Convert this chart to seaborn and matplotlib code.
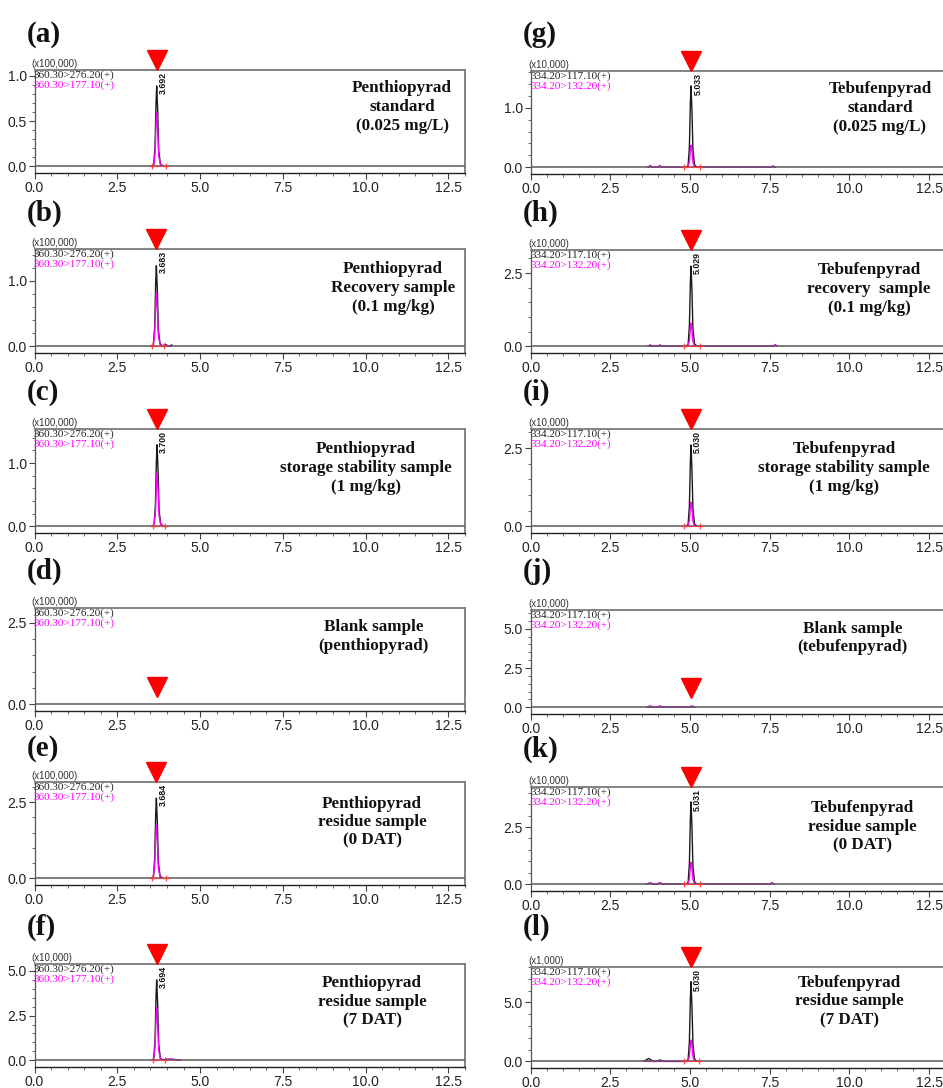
import matplotlib
matplotlib.use("Agg")
import matplotlib.pyplot as plt
import matplotlib.transforms as mtrans
from matplotlib.ticker import AutoMinorLocator, FixedLocator
import seaborn as sns
import pandas as pd

# ---------------- data ----------------
PANEL_LABELS = ["(a)", "(b)", "(c)", "(d)", "(e)", "(f)",
                "(g)", "(h)", "(i)", "(j)", "(k)", "(l)"]

TITLES = [
    "Penthiopyrad\nstandard\n(0.025 mg/L)",
    "Penthiopyrad\nRecovery sample\n(0.1 mg/kg)",
    "Penthiopyrad\nstorage stability sample\n(1 mg/kg)",
    "Blank sample\n(penthiopyrad)",
    "Penthiopyrad\nresidue sample\n(0 DAT)",
    "Penthiopyrad\nresidue sample\n(7 DAT)",
    "Tebufenpyrad\nstandard\n(0.025 mg/L)",
    "Tebufenpyrad\nrecovery  sample\n(0.1 mg/kg)",
    "Tebufenpyrad\nstorage stability sample\n(1 mg/kg)",
    "Blank sample\n(tebufenpyrad)",
    "Tebufenpyrad\nresidue sample\n(0 DAT)",
    "Tebufenpyrad\nresidue sample\n(7 DAT)",
]

SCALES = ["(x100,000)"] * 5 + ["(x10,000)"] + ["(x10,000)"] * 5 + ["(x1,000)"]
PEN_MRM = ["360.30>276.20(+)", "360.30>177.10(+)"]
TEB_MRM = ["334.20>117.10(+)", "334.20>132.20(+)"]

RET_TIMES = [3.692, 3.683, 3.700, 3.692, 3.684, 3.694,
             5.033, 5.029, 5.030, 5.030, 5.031, 5.030]
RT_LABELS = ["3.692", "3.683", "3.700", "", "3.684", "3.694",
             "5.033", "5.029", "5.030", "", "5.031", "5.030"]

Y_MAX = [1.066, 1.485, 1.54, 2.96, 3.16, 5.39,
         1.62, 3.29, 3.11, 6.2, 4.25, 8.0]
Y_TICKS = [[0.0, 0.5, 1.0], [0.0, 1.0], [0.0, 1.0], [0.0, 2.5], [0.0, 2.5], [0.0, 2.5, 5.0],
           [0.0, 1.0], [0.0, 2.5], [0.0, 2.5], [0.0, 2.5, 5.0], [0.0, 2.5], [0.0, 5.0]]
X_TICKS = [0.0, 2.5, 5.0, 7.5, 10.0, 12.5]

# integration limits (red baseline marks)
INT_START = [3.56, 3.55, 3.57, None, 3.56, 3.58, 4.81, 4.80, 4.82, None, 4.80, 4.81]
INT_END = [3.97, 3.92, 3.93, None, 3.97, 3.93, 5.31, 5.30, 5.32, None, 5.30, 5.29]

# chromatogram traces (time in min, intensity in panel units)
T_A = [3.55, 3.60, 3.64, 3.67, 3.69, 3.72, 3.75, 3.80, 3.88]
K_A = [0.00, 0.02, 0.22, 0.70, 0.89, 0.62, 0.18, 0.03, 0.00]
M_A = [0.00, 0.01, 0.14, 0.46, 0.59, 0.40, 0.12, 0.02, 0.00]

T_B = [3.54, 3.59, 3.63, 3.66, 3.68, 3.71, 3.74, 3.79, 3.87, 3.95, 4.05, 4.15]
K_B = [0.00, 0.03, 0.30, 0.98, 1.23, 0.85, 0.25, 0.04, 0.00, 0.03, 0.00, 0.02]
M_B = [0.00, 0.02, 0.20, 0.64, 0.82, 0.56, 0.16, 0.03, 0.00, 0.02, 0.00, 0.00]

T_C = [3.56, 3.61, 3.65, 3.68, 3.70, 3.73, 3.76, 3.81, 3.89]
K_C = [0.00, 0.03, 0.32, 1.02, 1.29, 0.90, 0.26, 0.04, 0.00]
M_C = [0.00, 0.02, 0.21, 0.66, 0.84, 0.58, 0.17, 0.03, 0.00]

T_D = []
K_D = []
M_D = []

T_E = [3.54, 3.59, 3.63, 3.66, 3.68, 3.71, 3.74, 3.79, 3.87]
K_E = [0.00, 0.06, 0.65, 2.10, 2.63, 1.82, 0.52, 0.08, 0.00]
M_E = [0.00, 0.04, 0.43, 1.38, 1.74, 1.20, 0.34, 0.05, 0.00]

T_F = [3.55, 3.60, 3.64, 3.67, 3.69, 3.72, 3.75, 3.80, 3.88, 4.00, 4.20, 4.40]
K_F = [0.00, 0.10, 1.10, 3.60, 4.50, 3.10, 0.90, 0.12, 0.00, 0.06, 0.05, 0.00]
M_F = [0.00, 0.07, 0.72, 2.35, 2.94, 2.03, 0.58, 0.08, 0.00, 0.06, 0.05, 0.00]

T_G = [3.68, 3.75, 3.82, 3.98, 4.05, 4.12, 4.88, 4.94, 4.98, 5.01, 5.03, 5.06, 5.09, 5.14, 5.22, 7.53, 7.60, 7.67]
K_G = [0.00, 0.02, 0.00, 0.00, 0.02, 0.00, 0.00, 0.03, 0.35, 1.08, 1.37, 0.95, 0.30, 0.04, 0.00, 0.00, 0.02, 0.00]
M_G = [0.00, 0.03, 0.00, 0.00, 0.03, 0.00, 0.00, 0.01, 0.10, 0.29, 0.37, 0.26, 0.08, 0.01, 0.00, 0.00, 0.02, 0.00]

T_H = [3.68, 3.75, 3.82, 3.98, 4.05, 4.12, 4.88, 4.94, 4.98, 5.01, 5.03, 5.06, 5.09, 5.14, 5.22, 7.60, 7.67, 7.74]
K_H = [0.00, 0.03, 0.00, 0.00, 0.03, 0.00, 0.00, 0.06, 0.70, 2.16, 2.74, 1.90, 0.60, 0.08, 0.00, 0.00, 0.04, 0.00]
M_H = [0.00, 0.05, 0.00, 0.00, 0.05, 0.00, 0.00, 0.02, 0.20, 0.62, 0.79, 0.55, 0.17, 0.02, 0.00, 0.00, 0.06, 0.00]

T_I = [4.88, 4.94, 4.98, 5.01, 5.03, 5.06, 5.09, 5.14, 5.22]
K_I = [0.00, 0.06, 0.66, 2.05, 2.60, 1.80, 0.57, 0.07, 0.00]
M_I = [0.00, 0.02, 0.19, 0.60, 0.77, 0.53, 0.16, 0.02, 0.00]

T_J = [3.65, 3.75, 3.85, 3.95, 4.05, 4.15, 4.95, 5.05, 5.15]
K_J = [0.00, 0.03, 0.00, 0.00, 0.03, 0.00, 0.00, 0.03, 0.00]
M_J = [0.00, 0.09, 0.00, 0.00, 0.09, 0.00, 0.00, 0.09, 0.00]

T_K = [3.65, 3.75, 3.85, 3.95, 4.05, 4.15, 4.88, 4.94, 4.98, 5.01, 5.03, 5.06, 5.09, 5.14, 5.22, 7.50, 7.57, 7.64]
K_K = [0.00, 0.05, 0.00, 0.00, 0.05, 0.00, 0.00, 0.08, 0.92, 2.84, 3.60, 2.50, 0.79, 0.10, 0.00, 0.00, 0.05, 0.00]
M_K = [0.00, 0.07, 0.00, 0.00, 0.07, 0.00, 0.00, 0.02, 0.24, 0.76, 0.96, 0.66, 0.21, 0.03, 0.00, 0.00, 0.07, 0.00]

T_L = [3.55, 3.70, 3.85, 3.95, 4.05, 4.20, 4.88, 4.94, 4.98, 5.01, 5.03, 5.06, 5.09, 5.14, 5.22]
K_L = [0.00, 0.25, 0.00, 0.00, 0.12, 0.00, 0.00, 0.15, 1.70, 5.30, 6.75, 4.70, 1.50, 0.20, 0.00]
M_L = [0.00, 0.00, 0.00, 0.00, 0.00, 0.00, 0.00, 0.04, 0.46, 1.42, 1.80, 1.25, 0.40, 0.05, 0.00]

TIMES = [T_A, T_B, T_C, T_D, T_E, T_F, T_G, T_H, T_I, T_J, T_K, T_L]
BLACK = [K_A, K_B, K_C, K_D, K_E, K_F, K_G, K_H, K_I, K_J, K_K, K_L]
MAGENTA = [M_A, M_B, M_C, M_D, M_E, M_F, M_G, M_H, M_I, M_J, M_K, M_L]

# ---------------- layout (pixels of a 943 x 1088 figure) ----------------
W, H = 943, 1088
COL_LEFT = [34.5, 530.7]
COL_WIDTH = [430.5, 414.3]
AX_TOP = [70, 249, 429, 608, 782, 964, 71, 250, 429, 610, 787, 967]
AX_BOTTOM = [173, 353, 533, 711, 885, 1067, 174, 353, 533, 714, 891, 1068]
LABEL_Y = [35, 213, 392, 571, 749, 927]
LABEL_X = [27, 523]
TITLE_X = [0.854, 0.833, 0.77, 0.788, 0.784, 0.784, 0.843, 0.817, 0.757, 0.777, 0.80, 0.769]
TITLE_Y = [0.64, 0.625, 0.625, 0.725, 0.61, 0.635, 0.64, 0.62, 0.625, 0.73, 0.615, 0.66]
TRI_Y = [None, None, None, 0.233, None, None, None, None, None, 0.25, None, None]

sns.set_theme(style="ticks")
plt.rcParams["font.family"] = ["Liberation Sans", "DejaVu Sans"]

fig = plt.figure(figsize=(W / 100, H / 100), dpi=100)

SERIF = ["Liberation Serif", "DejaVu Serif"]

for i in range(12):
    col = i // 6
    row = i % 6
    left = COL_LEFT[col] / W
    width = COL_WIDTH[col] / W
    bottom = 1 - AX_BOTTOM[i] / H
    height = (AX_BOTTOM[i] - AX_TOP[i]) / H
    ax = fig.add_axes([left, bottom, width, height])

    ymax = Y_MAX[i]
    ax.set_xlim(0, 13.0)
    ax.set_ylim(-0.07 * ymax, ymax)

    # baseline (drawn over the noise floor)
    ax.axhline(0, color="#5a5a5a", lw=1.1, zorder=4)

    # traces
    if TIMES[i]:
        df = pd.DataFrame({"t": TIMES[i], "black": BLACK[i], "magenta": MAGENTA[i]})
        sns.lineplot(data=df, x="t", y="black", ax=ax, color="#1a1a1a", lw=1.0,
                     sort=False, estimator=None, zorder=2)
        sns.lineplot(data=df, x="t", y="magenta", ax=ax, color="#ff00ff", lw=1.0,
                     sort=False, estimator=None, zorder=3)

    # integration marks
    if INT_START[i] is not None:
        ax.plot([INT_START[i], INT_END[i]], [0, 0], color="#ff3b3b", lw=0.8,
                marker="+", ms=4, mew=0.9, zorder=5, alpha=0.9)

    # red triangle marker
    rt = RET_TIMES[i]
    if TRI_Y[i] is None:
        tr = mtrans.blended_transform_factory(ax.transData, ax.transAxes) + \
            mtrans.ScaledTranslation(0, 7.2 / 72, fig.dpi_scale_trans)
        ax.plot([rt], [1.0], marker="v", ms=14.5, color="#ff0000", mec="#ff0000",
                transform=tr, clip_on=False, zorder=6)
    else:
        tr = mtrans.blended_transform_factory(ax.transData, ax.transAxes)
        ax.plot([rt], [TRI_Y[i]], marker="v", ms=14.5, color="#ff0000", mec="#ff0000",
                transform=tr, clip_on=False, zorder=6)

    # retention time label
    if RT_LABELS[i]:
        trl = mtrans.blended_transform_factory(ax.transData, ax.transAxes)
        ax.text(rt + 0.07, 0.985, RT_LABELS[i], transform=trl, rotation=90,
                ha="left", va="top", fontsize=6.3, fontweight="bold", color="#111111")

    # scale factor and MRM transitions
    ax.annotate(SCALES[i], xy=(0, 1), xycoords="axes fraction", xytext=(-2, 0.5),
                textcoords="offset points", ha="left", va="bottom", fontsize=7,
                color="#333333", annotation_clip=False)
    mrm = PEN_MRM if col == 0 else TEB_MRM
    ax.annotate(mrm[0], xy=(0, 1), xycoords="axes fraction", xytext=(-0.5, -0.3),
                textcoords="offset points", ha="left", va="top", fontsize=8,
                family=SERIF, color="#222222")
    ax.annotate(mrm[1], xy=(0, 1), xycoords="axes fraction", xytext=(-0.5, -7.8),
                textcoords="offset points", ha="left", va="top", fontsize=8,
                family=SERIF, color="#ff00ff")

    # sample title
    ax.text(TITLE_X[i], TITLE_Y[i], TITLES[i], transform=ax.transAxes, ha="center",
            va="center", fontsize=12.3, fontweight="bold", family=SERIF,
            linespacing=1.22, color="#111111")

    # ticks
    ax.xaxis.set_major_locator(FixedLocator(X_TICKS))
    ax.xaxis.set_minor_locator(AutoMinorLocator(5))
    ax.yaxis.set_major_locator(FixedLocator(Y_TICKS[i]))
    ax.yaxis.set_minor_locator(AutoMinorLocator(5))
    ax.set_xticklabels([f"{v:.1f}" for v in X_TICKS])
    ax.set_yticklabels([f"{v:.1f}" for v in Y_TICKS[i]])
    ax.tick_params(axis="both", which="major", direction="out", length=4, width=0.8,
                   color="#444444", labelsize=10, labelcolor="#222222", pad=1.5)
    ax.tick_params(axis="both", which="minor", direction="out", length=2, width=0.6,
                   color="#555555")
    ax.set_xlabel("")
    ax.set_ylabel("")

    for side in ["top", "right"]:
        ax.spines[side].set_visible(True)
        ax.spines[side].set_color("#7a7a7a")
        ax.spines[side].set_linewidth(1.3)
    ax.spines["left"].set_color("#555555")
    ax.spines["left"].set_linewidth(0.9)
    ax.spines["bottom"].set_color("#222222")
    ax.spines["bottom"].set_linewidth(1.0)

    # panel label
    fig.text(LABEL_X[col] / W, 1 - LABEL_Y[row] / H, PANEL_LABELS[i], ha="left",
             va="center", fontsize=21, fontweight="bold", family=SERIF, color="#111111")

fig.savefig("out.png", dpi=100)
